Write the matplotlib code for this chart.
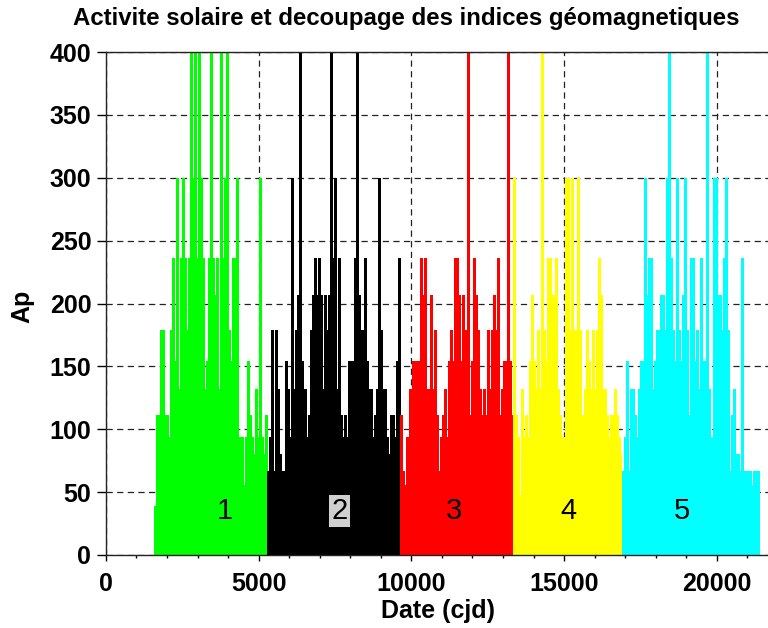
import numpy as np
import matplotlib
matplotlib.use('Agg')
import matplotlib.pyplot as plt
from matplotlib.ticker import MultipleLocator

plt.rcParams['font.family'] = ['Liberation Sans', 'DejaVu Sans']
plt.rcParams['font.weight'] = 'bold'

# ---- data (Ap values, ~2 px columns) ----
seg_bounds = [1575, 5263, 9630, 13330, 16900, 21370]
seg_colors = ['#00ff00', '#000000', '#ff0000', '#ffff00', '#00ffff']
seg_names = ['1', '2', '3', '4', '5']
label_x = [3900, 7650, 11400, 15130, 18860]
label_y = 35

green_peak = [39, 111, 111, 179, 179, 111, 111, 94, 179, 236, 154, 300, 132, 236,
              300, 236, 179, 236, 400, 300, 400, 236, 400, 300, 236, 132, 154, 236,
              400, 236, 207, 236, 132, 400, 236, 300, 400, 179, 154, 236, 236, 300,
              94, 94, 56, 94, 154, 111, 94, 80, 132, 94, 300, 94, 80, 111]
green_base = [39, 56, 56, 67, 80, 94, 111, 111, 80, 67, 67, 56, 67, 67]

black_peak = [67, 94, 179, 67, 179, 132, 80, 67, 48, 154, 132, 94, 300, 132,
              179, 207, 400, 154, 132, 132, 94, 111, 179, 207, 236, 207, 236, 207,
              132, 207, 179, 207, 400, 236, 300, 132, 236, 111, 94, 111, 94, 154,
              154, 154, 236, 400, 207, 179, 179, 236, 154, 132, 132, 94, 111, 132,
              300, 179, 132, 132, 94, 80, 111, 111, 94, 154, 236]
black_base = [56, 48, 67, 80, 80, 67, 80, 94, 94, 80, 94, 111, 80, 67, 80, 80, 94]

red_peak = [111, 67, 56, 94, 56, 132, 154, 154, 154, 154, 236, 207, 236, 132,
            132, 207, 132, 179, 111, 56, 94, 111, 132, 94, 154, 179, 154, 236,
            236, 207, 154, 207, 179, 132, 400, 111, 154, 236, 207, 179, 132, 94,
            132, 111, 179, 132, 179, 207, 179, 236, 111, 132, 154, 154, 400, 154, 80]
red_base = [56, 132, 132, 94, 67, 94, 111, 111, 111, 94, 94, 111]

yellow_peak = [300, 111, 94, 48, 132, 94, 111, 94, 154, 207, 154, 132, 179, 132,
               400, 179, 154, 236, 236, 207, 207, 236, 132, 111, 94, 94, 300, 300,
               179, 300, 179, 179, 300, 179, 111, 111, 132, 179, 154, 132, 179, 132,
               179, 236, 207, 132, 132, 111, 94, 111, 111, 132, 111, 94, 48]
yellow_base = [39, 67, 94, 111, 111, 94, 154, 111, 94, 94, 80, 80]

cyan_peak = [67, 94, 154, 67, 132, 132, 111, 94, 132, 154, 154, 300, 207, 236,
             236, 132, 154, 179, 179, 207, 207, 179, 300, 400, 236, 179, 154, 300,
             179, 154, 207, 300, 179, 111, 236, 236, 154, 179, 132, 236, 154, 154,
             400, 132, 94, 300, 300, 207, 207, 179, 236, 300, 179, 67, 111, 132,
             80, 80, 67, 236, 67, 67, 67, 67, 56, 67, 67, 67]
cyan_base = [48, 80, 94, 94, 111, 111, 94, 111, 111, 94, 111, 56, 48, 48]

peaks = [green_peak, black_peak, red_peak, yellow_peak, cyan_peak]
bases = [green_base, black_base, red_base, yellow_base, cyan_base]

x_ticks_major = 5000
x_ticks_minor = 1000
y_ticks_major = 50
xmax = 21675
ymax = 400

title = "Activite solaire et decoupage des indices géomagnetiques"
xlabel = "Date (cjd)"
ylabel = "Ap"

# ---- figure ----
W, H = 768, 628
fig = plt.figure(figsize=(W / 100, H / 100), dpi=100)
ax = fig.add_axes([105.9 / W, 73 / H, (W - 105.9) / W, 503 / H])

for i in range(5):
    s, e = seg_bounds[i], seg_bounds[i + 1]
    c = seg_colors[i]
    b = np.asarray(bases[i], float)
    edges = np.linspace(s, e, len(b) + 1)
    ax.bar(edges[:-1], b, width=np.diff(edges), align='edge', color=c,
           linewidth=0, antialiased=False, zorder=2)
    p = np.asarray(peaks[i], float)
    w = (e - s) / len(p)
    centers = s + (np.arange(len(p)) + 0.5) * w
    ax.vlines(centers, 0, p, colors=c, linewidth=1.0, antialiased=False, zorder=2)

for i in range(5):
    kw = dict(ha='center', va='center', fontsize=21, fontweight='normal',
              color='black', zorder=5)
    if i == 1:
        kw['bbox'] = dict(boxstyle='square,pad=0.08', facecolor='#d0d0d0',
                          edgecolor='none')
    ax.text(label_x[i], label_y, seg_names[i], **kw)

ax.set_xlim(0, xmax)
ax.set_ylim(0, ymax)
ax.xaxis.set_major_locator(MultipleLocator(x_ticks_major))
ax.xaxis.set_minor_locator(MultipleLocator(x_ticks_minor))
ax.yaxis.set_major_locator(MultipleLocator(y_ticks_major))

ax.set_axisbelow(True)
ax.grid(True, which='major', color='#222222', linestyle=(0, (5, 3.5)), linewidth=0.9)

for side in ['left', 'bottom', 'top']:
    ax.spines[side].set_color('#222222')
    ax.spines[side].set_linewidth(1.0)
ax.spines['right'].set_visible(False)

ax.tick_params(axis='x', which='major', direction='out', length=4, width=1,
               labelsize=18, pad=8)
ax.tick_params(axis='x', which='minor', direction='out', length=2.5, width=1)
ax.tick_params(axis='y', which='major', direction='out', length=6.5, width=1,
               labelsize=18, pad=4)

fig.text(406 / W, 1 - 19 / H, title, ha='center', va='center', fontsize=17.3,
         fontweight='bold')
fig.text(438 / W, 1 - 611 / H, xlabel, ha='center', va='center', fontsize=18,
         fontweight='bold')
fig.text(22 / W, 1 - 306 / H, ylabel, ha='center', va='center', fontsize=18,
         fontweight='bold', rotation=90)

fig.savefig('out.png', dpi=100)
